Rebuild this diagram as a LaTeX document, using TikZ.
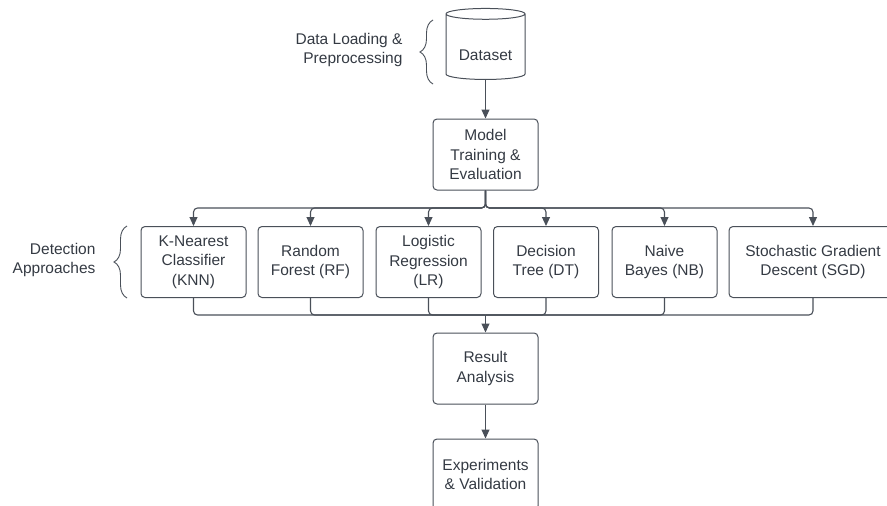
\documentclass[tikz,border=0pt]{standalone}
\usepackage{fontspec}
\setmainfont{Liberation Sans}
\usetikzlibrary{positioning, shapes.geometric, arrows.meta, decorations.pathreplacing}
\definecolor{inkgray}{HTML}{343A43}
\definecolor{linegray}{HTML}{4A5059}
\tikzset{
  box/.style={draw=linegray, line width=1pt, rounded corners=4pt, minimum width=105pt,
    minimum height=71pt, align=center, text=inkgray, inner sep=2pt,
    font=\fontsize{15.5}{19.5}\selectfont},
  flow/.style={draw=linegray, line width=1.1pt, rounded corners=4pt,
    -{Triangle[length=9pt,width=8pt]}},
  link/.style={draw=linegray, line width=1.1pt, rounded corners=4pt},
  bracket/.style={draw=linegray, line width=0.9pt, decorate,
    decoration={brace, amplitude=13pt}},
  side label/.style={align=right, anchor=east, text=inkgray,
    font=\fontsize{15.5}{19.5}\selectfont}
}
\begin{document}
\begin{tikzpicture}[x=1pt, y=-1pt]
  \useasboundingbox (0,0) rectangle (887,506);
  \clip (0,0) rectangle (887,506);

  % data stage
  \node[cylinder, shape border rotate=90, aspect=0.18, draw=linegray, line width=1pt,
    minimum width=79pt, minimum height=71pt, text=inkgray, text height=25pt, text depth=0pt,
    font=\fontsize{15.5}{19.5}\selectfont] (data) at (485.5,48) {Dataset};
  \draw[bracket] (433,84) -- (433,20);
  \node[side label] (dlabel) at (406,50) {Data Loading \&\\Preprocessing};

  \node[box] (model) at (485.5,154.5) {Model\\Training \&\\Evaluation};
  \draw[flow] (data) -- (model);

  % detection approaches
  \foreach \nm/\cx/\bw/\txt in {knn/193.5/105/{K-Nearest\\Classifier\\(KNN)},
      rf/310.5/105/{Random\\Forest (RF)}, lr/428.5/105/{Logistic\\Regression\\(LR)},
      dt/546/105/{Decision\\Tree (DT)}, nb/664.5/105/{Naive\\Bayes (NB)},
      sgd/813/168/{Stochastic Gradient\\Descent (SGD)}}
    \node[box, minimum width=\bw pt] (\nm) at (\cx,262) {\txt};

  \draw[bracket] (127,298) -- (127,226);
  \node[side label] (alabel) at (99,260) {Detection\\Approaches};

  \coordinate (split) at (485.5,208);
  \coordinate (merge) at (485.5,315);
  \foreach \nm in {knn, rf, lr, dt, nb, sgd} {
    \draw[flow] (model.south) -- (split) -| (\nm.north);
    \draw[link] (\nm.south) |- (merge);
  }

  % results
  \node[box] (result) at (485.5,368.5) {Result\\Analysis};
  \draw[flow] (merge) -- (result);
  \node[box] (exper) at (485.5,474.5) {Experiments\\\& Validation};
  \draw[flow] (result) -- (exper);
\end{tikzpicture}
\end{document}
